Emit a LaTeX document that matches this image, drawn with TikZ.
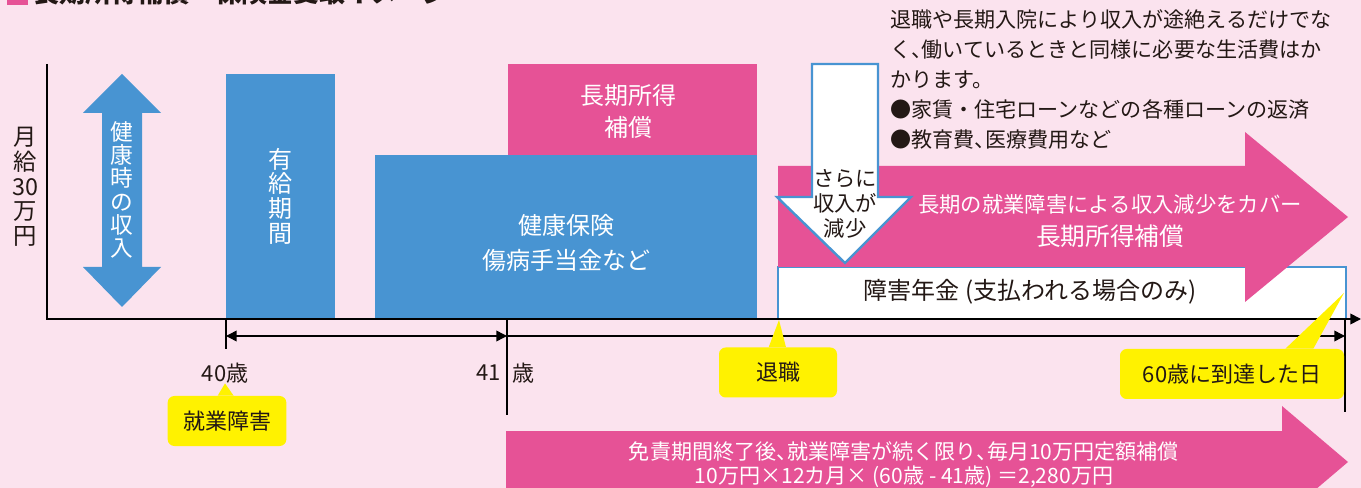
\documentclass[tikz,border=0pt]{standalone}
\usepackage{fontspec}
\setmainfont{Noto Sans CJK JP}
\usetikzlibrary{arrows.meta}

\definecolor{bgpink}{RGB}{251,227,238}
\definecolor{barblue}{RGB}{72,148,210}
\definecolor{barpink}{RGB}{230,82,150}
\definecolor{calloutyellow}{RGB}{255,242,0}
\definecolor{inkblack}{RGB}{35,24,21}

% half width comma
\newcommand\hcomma{{\addfontfeature{RawFeature=+halt}、}}

\begin{document}
\begin{tikzpicture}[x=0.75pt,y=-0.75pt,
    every node/.style={inner sep=0pt, text=inkblack},
    bluebar/.style={fill=barblue},
    pinkbar/.style={fill=barpink},
    bartext/.style={text=white, align=center, font=\fontsize{18}{26}\selectfont},
    vtext/.style={align=center, font=\fontsize{17}{17.5}\selectfont},
    axis/.style={line width=1.3pt},
    tick/.style={line width=1.1pt},
    period/.style={line width=1.1pt},
    callout/.style={fill=calloutyellow, rounded corners=5pt, minimum height=37.5pt,
                    font=\fontsize{16.5}{18}\selectfont},
    agelabel/.style={font=\fontsize{16.5}{18}\selectfont}]

    % background and page
    \useasboundingbox (0,0) rectangle (1361,488);
    \fill[bgpink] (0,0) rectangle (1361,488);
    \clip (0,0) rectangle (1361,488);

    % title (cut off at the top)
    \fill[barpink] (7,-18) rectangle (28,5);
    \node[anchor=base west, font=\bfseries\fontsize{19.5}{20}\selectfont] (title) at (33,3) {長期所得補償　保険金受取イメージ};

    % note
    \node[anchor=north west, align=left, font=\fontsize{15.8}{22.5}\selectfont] (note) at (890,9)
        {退職や長期入院により収入が途絶えるだけでな\\く\hcomma 働いているときと同様に必要な生活費はか\\かります。\\●家賃・住宅ローンなどの各種ローンの返済\\●教育費\hcomma 医療費用など};

    % income when healthy
    \fill[barblue] (122,74) -- (161,113) -- (142,113) -- (142,267) -- (161,267)
        -- (122,307) -- (83,267) -- (102,267) -- (102,113) -- (83,113) -- cycle;
    \node[vtext, text=white] (kenko) at (122,190) {健\\康\\時\\の\\収\\入};

    % bars
    \fill[bluebar] (226,74) rectangle (335,319);
    \node[vtext, text=white, font=\fontsize{18}{18.5}\selectfont] (yukyu) at (280,196) {有\\給\\期\\間};
    \fill[bluebar] (375,155) rectangle (757,319);
    \node[bartext] (kenpo) at (566,243) {健康保険\\傷病手当金など};
    \fill[pinkbar] (508,64) rectangle (757,155);
    \node[bartext, font=\fontsize{18}{24}\selectfont] (choki) at (628,111) {長期所得\\補償};

    % disability pension box
    \filldraw[fill=white, draw=barblue, line width=1.2pt] (778,267) rectangle (1346,319);
    \node[font=\fontsize{18}{20}\selectfont] (nenkin) at (1030,292) {障害年金 (支払われる場合のみ)};

    % long term cover arrow
    \fill[pinkbar] (778,166) -- (1245,166) -- (1245,132) -- (1348,217) -- (1245,302)
        -- (1245,267) -- (778,267) -- cycle;
    \node[text=white, font=\fontsize{16}{18}\selectfont] (cover) at (1110,204) {長期の就業障害による収入減少をカバー};
    \node[text=white, font=\fontsize{18.5}{20}\selectfont] (coverb) at (1110,236) {長期所得補償};

    % income drop arrow
    \filldraw[fill=white, draw=barblue, line width=1.8pt] (812,64) -- (878,64) -- (878,197)
        -- (911,197) -- (845,263) -- (777,197) -- (812,197) -- cycle;
    \node[align=center, font=\fontsize{16}{19}\selectfont] (genshou) at (845,204) {さらに\\収入が\\減少};

    % axes
    \coordinate (origin) at (47,319);
    \coordinate (ytop)   at (47,64);
    \coordinate (xend)   at (1361,319);
    \draw[axis, -{Triangle[length=8pt,width=8pt]}] (ytop) -- (origin) -- (xend);
    \node[vtext, font=\fontsize{17.5}{18.5}\selectfont] (gekkyu) at (25,187) {月\\給\\30\\万\\円};

    % ticks
    \coordinate (a40)  at (226,319);
    \coordinate (a40b) at (226,349);
    \coordinate (a41)  at (507,319);
    \coordinate (a41b) at (507,415);
    \coordinate (a60)  at (1345,319);
    \coordinate (a60b) at (1345,412);
    \draw[tick] (a40) -- (a40b);
    \draw[tick] (a41) -- (a41b);
    \draw[tick] (a60) -- (a60b);

    \coordinate (p40) at (226,336);
    \coordinate (p41) at (507,336);
    \coordinate (p60) at (1345,336);
    \draw[period, {Triangle[length=8pt,width=8pt]}-{Triangle[length=8pt,width=8pt]}] (p40) -- (p41);
    \draw[period, -{Triangle[length=8pt,width=8pt]}] (p41) -- (p60);

    \node[agelabel] (age40) at (225,373) {40歳};
    \node[agelabel, anchor=east] (age41) at (501,373) {41};
    \node[agelabel, anchor=west] (age41u) at (512,373) {歳};

    % callouts
    \node[callout, minimum width=89pt] (shogai) at (227,421) {就業障害};
    \fill[calloutyellow] ([xshift=-7pt]shogai.north) -- (age40.south) -- ([xshift=5pt]shogai.north) -- cycle;

    \coordinate (retire) at (779,320);
    \node[callout, minimum width=88.5pt] (taishoku) at (778,372.5) {退職};
    \fill[calloutyellow] ([xshift=-7pt]taishoku.north) -- (retire) -- ([xshift=6pt]taishoku.north) -- cycle;

    \coordinate (nenkinend) at (1344,293);
    \node[callout, minimum width=168pt] (kanreki) at (1232,374) {60歳に到達した日};
    \fill[calloutyellow] ([xshift=40pt]kanreki.north) -- (nenkinend) -- ([xshift=61pt]kanreki.north) -- cycle;

    % fixed benefit arrow
    \fill[pinkbar] (506,431) -- (1282,431) -- (1282,406) -- (1348,462) -- (1282,518)
        -- (1282,493) -- (506,493) -- cycle;
    \node[text=white, font=\fontsize{15.8}{17}\selectfont] (menseki) at (904,451) {免責期間終了後\hcomma 就業障害が続く限り\hcomma 毎月10万円定額補償};
    \node[text=white, font=\fontsize{15.8}{17}\selectfont] (keisan) at (904,477) {10万円×12カ月× (60歳 - 41歳) ＝2,280万円};
\end{tikzpicture}
\end{document}
